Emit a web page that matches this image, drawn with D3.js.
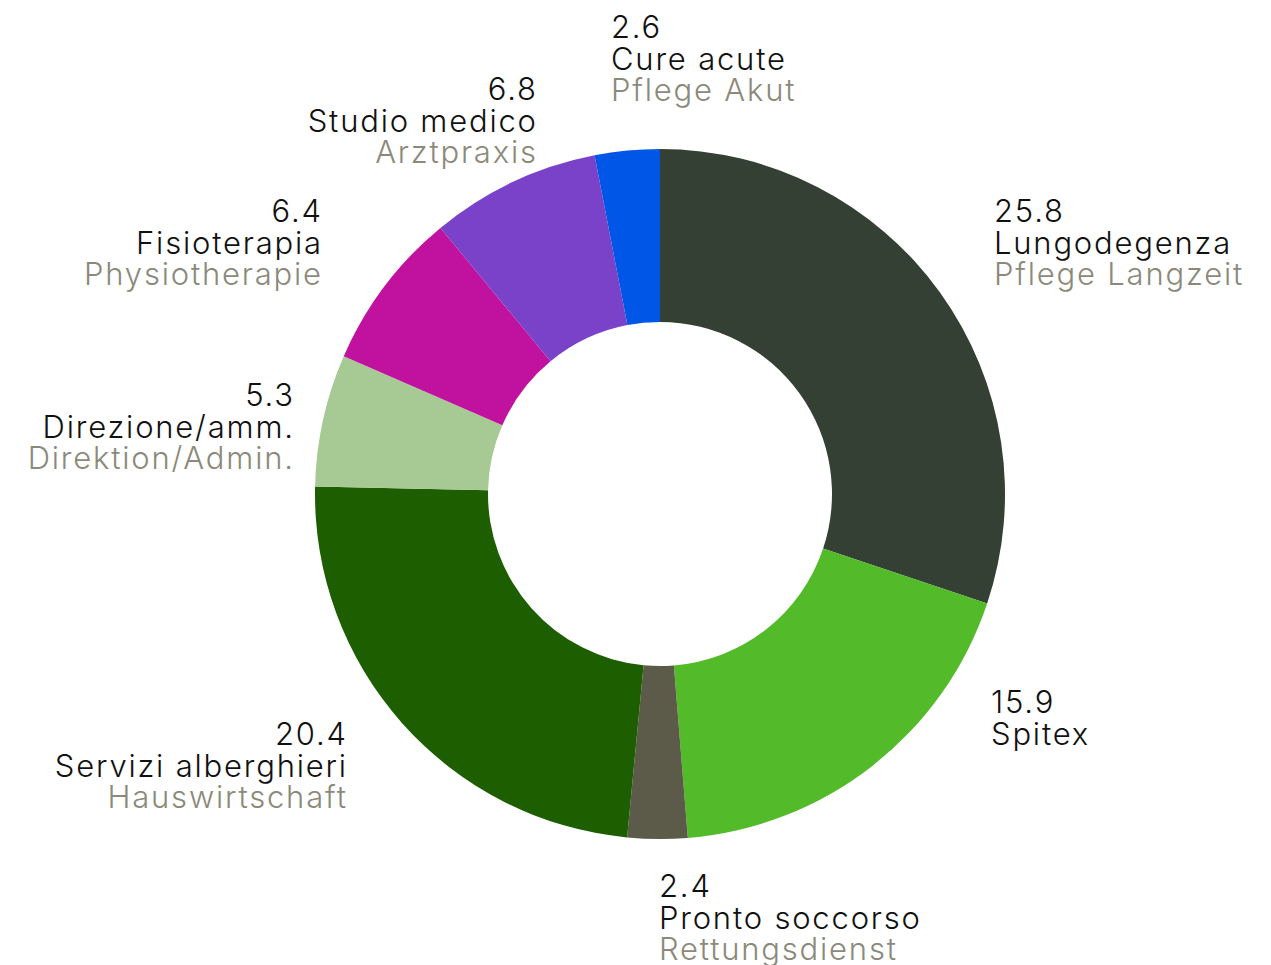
<!DOCTYPE html>
<html><head><meta charset="utf-8">
<script src="https://cdn.jsdelivr.net/npm/d3@7"></script>
<style>
html,body{margin:0;padding:0;background:#fff;}
text{font-family:"Inter","Roboto","Liberation Sans",sans-serif;font-weight:300;}
</style></head>
<body>
<svg id="chart" width="1271" height="965"></svg>
<script>
// Data
const categoriesIT = ["Lungodegenza","Spitex","Pronto soccorso","Servizi alberghieri","Direzione/amm.","Fisioterapia","Studio medico","Cure acute"];
const categoriesDE = ["Pflege Langzeit","","Rettungsdienst","Hauswirtschaft","Direktion/Admin.","Physiotherapie","Arztpraxis","Pflege Akut"];
const values = [25.8, 15.9, 2.4, 20.4, 5.3, 6.4, 6.8, 2.6];
const valueLabels = ["25.8","15.9","2.4","20.4","5.3","6.4","6.8","2.6"];
const colors = ["#334033","#53bb29","#5c5a48","#1c5e00","#a7c994","#c0119f","#7a42c9","#0057e7"];

// Layout (label anchors relative to chart centre)
const cx = 660, cy = 494, rOuter = 345, rInner = 172;
const labelLayout = [
  {dx: 334, dy: -272, anchor: "start"},
  {dx: 331, dy: 219, anchor: "start"},
  {dx: -1, dy: 403, anchor: "start"},
  {dx: -314, dy: 251, anchor: "end"},
  {dx: -367, dy: -88, anchor: "end"},
  {dx: -339, dy: -272, anchor: "end"},
  {dx: -124, dy: -394, anchor: "end"},
  {dx: -49, dy: -456, anchor: "start"}
];

const svg = d3.select("#chart");
const g = svg.append("g").attr("transform", `translate(${cx},${cy})`);

const pie = d3.pie().sort(null).value(d => d)(values);
const arc = d3.arc().innerRadius(rInner).outerRadius(rOuter);
const color = d3.scaleOrdinal().domain(d3.range(values.length)).range(colors);

g.selectAll("path").data(pie).enter().append("path")
  .attr("d", arc)
  .attr("fill", (d,i) => color(i));

const lh = 31.7;
const fs = 31;
const ls = 1.8;
const labels = g.selectAll("g.label").data(pie).enter().append("g")
  .attr("class","label")
  .attr("transform", (d,i) => `translate(${labelLayout[i].dx + (labelLayout[i].anchor === "end" ? ls : 0)},${labelLayout[i].dy})`)
  .attr("text-anchor", (d,i) => labelLayout[i].anchor);

labels.each(function(d,i){
  const sel = d3.select(this);
  const add = (y, col, txt) => sel.append("text").attr("y", y).attr("font-size", fs)
      .attr("letter-spacing", ls).attr("fill", col).text(txt);
  add(0, "#111", valueLabels[i]);
  add(lh, "#111", categoriesIT[i]);
  if (categoriesDE[i]) add(2*lh, "#8b8a7a", categoriesDE[i]);
});
</script>
</body></html>
